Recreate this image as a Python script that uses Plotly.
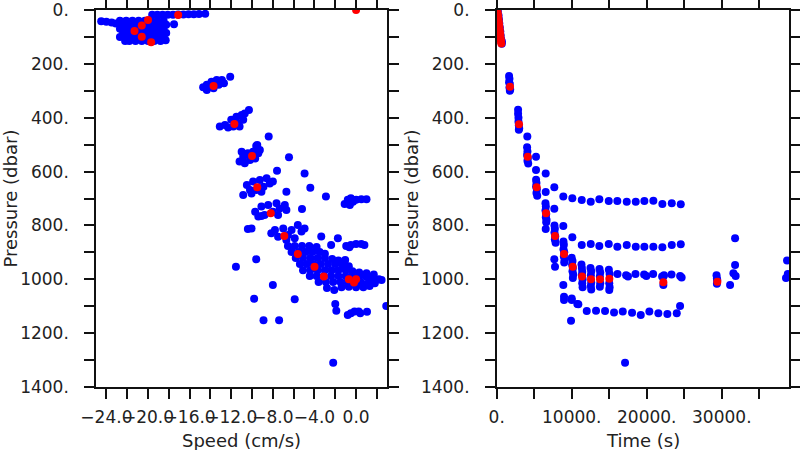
import plotly.graph_objects as go

# ---------------- LEFT PANEL: Speed (cm/s) vs Pressure (dbar) ----------------
left_blue_top = [
    (-24.5, 42), (-24.0, 44), (-23.5, 46), (-23.1, 50),
    (-22.7, 40), (-22.1, 40), (-21.5, 40), (-20.9, 40), (-20.3, 40), (-19.7, 40), (-19.1, 40), (-18.5, 40),
    (-22.4, 55), (-21.8, 55), (-21.2, 55), (-20.6, 55), (-20.0, 55), (-19.4, 55), (-18.8, 55), (-18.25, 55),
    (-22.7, 70), (-22.1, 70), (-21.5, 70), (-20.9, 70), (-20.3, 70), (-19.7, 70), (-19.1, 70), (-18.5, 70),
    (-22.4, 85), (-21.8, 85), (-21.2, 85), (-20.6, 85), (-20.0, 85), (-19.4, 85), (-18.8, 85), (-18.25, 85),
    (-22.7, 100), (-22.1, 100), (-21.5, 100), (-20.9, 100), (-20.3, 100), (-19.7, 100), (-19.1, 100), (-18.5, 100),
    (-22.2, 115), (-21.8, 115), (-21.2, 115), (-20.6, 115), (-20.0, 115), (-19.4, 115), (-18.8, 115), (-18.3, 112),
    (-19.6, 18), (-19.1, 18), (-18.6, 18), (-18.1, 18), (-17.6, 18), (-17.1, 17),
    (-16.6, 17), (-16.1, 16), (-15.6, 16), (-15.1, 15), (-14.5, 14),
    (-17.5, 53),
]
left_blue_mid = [
    (-14.7, 287), (-14.35, 278), (-14.35, 297), (-14.0, 285), (-13.9, 266), (-13.7, 291),
    (-13.4, 260), (-13.2, 278), (-12.9, 260), (-12.7, 272), (-12.1, 248),
    (-13.1, 433), (-12.6, 427), (-12.3, 436), (-12.0, 408), (-11.8, 433), (-11.5, 396),
    (-11.3, 421), (-11.0, 390), (-10.85, 408), (-11.2, 433), (-10.7, 384), (-10.3, 371),
    (-8.4, 470), (-9.6, 505), (-9.5, 501),
    (-11.2, 563), (-10.85, 545), (-10.7, 569), (-10.4, 532), (-10.2, 557), (-9.9, 526),
    (-9.7, 551), (-9.4, 532), (-9.25, 520), (-11.0, 526),
    (-10.85, 687), (-10.5, 650), (-10.2, 668), (-9.9, 637), (-9.6, 668), (-9.25, 631),
    (-8.9, 656), (-8.6, 625), (-8.3, 644), (-8.0, 637), (-9.1, 675), (-10.05, 681),
    (-9.7, 749), (-9.4, 767), (-9.1, 730), (-8.8, 761), (-8.45, 724), (-8.0, 749),
    (-7.65, 718), (-7.35, 737), (-6.85, 724), (-6.7, 743), (-7.5, 761), (-9.1, 765),
    (-10.4, 813), (-10.05, 811),
    (-8.15, 829), (-7.8, 817), (-7.5, 842), (-7.0, 811), (-6.55, 836), (-6.2, 817),
    (-5.9, 848), (-5.6, 798), (-5.25, 823), (-4.95, 811), (-6.7, 854),
]
left_blue_band = [
    (-6.55, 876), (-5.9, 876), (-5.2, 876), (-4.5, 876), (-3.8, 880),
    (-6.2, 899), (-5.5, 899), (-4.85, 899), (-4.2, 899), (-3.5, 899), (-3.0, 905),
    (-5.8, 921), (-5.1, 921), (-4.4, 921), (-3.7, 921), (-3.0, 921), (-2.3, 925), (-1.7, 930),
    (-5.4, 943), (-4.75, 943), (-4.1, 943), (-3.4, 943), (-2.7, 943), (-2.0, 943), (-1.3, 948), (-0.7, 952),
    (-5.1, 966), (-4.4, 966), (-3.7, 966), (-3.0, 966), (-2.35, 966), (-1.7, 966), (-1.0, 966),
    (-0.35, 970), (0.3, 975), (1.0, 978), (1.7, 982),
    (-4.45, 988), (-3.8, 988), (-3.1, 988), (-2.4, 988), (-1.7, 988), (-1.0, 988), (-0.35, 988),
    (0.35, 988), (1.0, 990), (1.7, 995), (2.2, 1000),
    (-3.6, 1010), (-2.9, 1010), (-2.2, 1010), (-1.5, 1010), (-0.85, 1010), (-0.2, 1010),
    (0.5, 1012), (1.2, 1012), (1.8, 1015),
    (-2.8, 1032), (-1.4, 1030), (-0.7, 1028), (0.0, 1030), (0.7, 1030), (1.3, 1025),
    (2.45, 1003),
]
left_blue_scatter = [
    (-6.45, 547), (-7.6, 597), (-4.95, 607), (-4.4, 660), (-6.7, 675), (-2.9, 693), (-5.2, 739),
    (-3.35, 841), (-1.75, 848), (-2.4, 873), (-9.6, 926), (-11.55, 953), (-8.0, 1021),
    (-1.05, 928), (-2.1, 1040), (-9.8, 1072), (-5.9, 1074), (-2.0, 1092), (-1.9, 1117),
    (-8.9, 1152), (-7.4, 1152), (-2.2, 1310), (2.9, 1099),
    (-1.1, 720), (-0.8, 705), (-0.5, 699), (-0.3, 712), (0.0, 705), (0.5, 703), (1.0, 703), (-0.6, 724),
    (-0.95, 876), (-0.5, 873), (0.0, 869), (0.5, 869), (0.8, 873), (-0.65, 881),
    (-0.8, 1133), (-0.5, 1126), (-0.15, 1120), (0.25, 1120), (0.4, 1126), (1.05, 1121),
]
left_red = [
    (-21.3, 78), (-20.6, 58), (-20.0, 37), (-20.6, 99), (-19.7, 120), (-17.1, 19), (0.0, 0),
    (-13.7, 282), (-11.7, 423), (-10.0, 542), (-9.5, 658), (-8.2, 755), (-6.9, 839),
    (-5.6, 906), (-4.0, 953), (-3.1, 990), (-0.7, 1000), (0.0, 1000), (-0.2, 1012),
]

# ---------------- RIGHT PANEL: Time (s) vs Pressure (dbar) ----------------
right_blue_profiles = [
    (150, 5), (250, 20), (300, 35), (350, 50), (420, 65), (480, 80), (530, 95), (600, 110), (680, 125), (700, 118),
    (1650, 245), (1700, 255), (1650, 268), (1750, 275), (1700, 288), (1800, 295), (1750, 300),
    (2850, 370), (2850, 385), (2900, 400), (2900, 415), (2950, 428), (3000, 440), (2950, 445),
    (4080, 470),
    (4050, 510), (4100, 525), (4050, 538), (4150, 550), (4100, 560), (4200, 570),
    (5240, 545), (5240, 594), (6533, 607),
    (5250, 630), (5300, 642), (5250, 655), (5350, 667), (5300, 680), (5400, 690),
    (6533, 676), (7680, 658),
    (6500, 718), (6550, 730), (6500, 745), (6600, 758), (6550, 770), (6650, 780), (6600, 788),
    (7680, 738), (6533, 813),
    (7700, 800), (7750, 812), (7700, 826), (7800, 840), (7750, 852), (7850, 864),
    (7680, 926), (7773, 953),
    (8900, 860), (8950, 872), (8900, 888), (9000, 900), (8950, 915), (9050, 928), (9000, 938),
    (8880, 1021), (8973, 1065),
    (10000, 920), (10100, 932), (10050, 945), (10150, 958), (10100, 970), (10200, 982), (10150, 995),
    (10000, 1071), (9907, 1154), (10747, 1092),
    (11300, 945), (11350, 958), (11400, 972), (11350, 985), (11450, 1000), (11400, 1015), (11450, 1030),
    (12500, 958), (12600, 970), (12550, 985), (12600, 1012), (12550, 1025), (12600, 1038),
    (13700, 962), (13800, 975), (13750, 990), (13800, 1015), (13750, 1028),
    (14950, 965), (15050, 980), (15000, 1015), (15050, 1030), (15000, 1040),
]
right_blue_line700 = [
    (8880, 693), (10080, 699), (11333, 706), (12533, 712), (13680, 703), (14933, 709), (16080, 709),
    (17333, 712), (18533, 712), (19680, 709), (20880, 708), (22080, 720), (23333, 718), (24533, 721),
]
right_blue_line870 = [
    (8880, 802), (10080, 844), (11333, 873), (12533, 869), (13680, 876), (14933, 869), (16080, 879),
    (17333, 873), (18533, 879), (19680, 879), (20880, 879), (22080, 881), (23333, 873), (24533, 870),
]
right_blue_line985 = [
    (16100, 980), (17250, 985), (17500, 990), (18500, 980), (19650, 982), (19950, 988),
    (20850, 980), (22050, 990), (22300, 985), (23300, 982), (24450, 988), (24650, 993),
    (22213, 990), (22213, 1021),
]
right_blue_line1120 = [
    (8973, 1077), (10000, 1077), (10880, 1093), (12000, 1118), (13240, 1117), (14440, 1118),
    (15640, 1123), (16800, 1120), (18040, 1124), (19200, 1133), (20347, 1120), (21547, 1126),
    (22747, 1129), (24000, 1126), (24440, 1099), (17107, 1310),
]
right_blue_late = [
    (29300, 985), (29350, 997), (29400, 1003), (29350, 1017), (31107, 1021), (31550, 978),
    (31850, 988), (31773, 947), (31773, 848), (38700, 930), (38560, 995), (38800, 980),
]
right_red = [
    (80, 0), (130, 10), (180, 20), (220, 30), (260, 40), (300, 50), (340, 60), (380, 70),
    (420, 80), (460, 90), (500, 100), (540, 110), (580, 118), (620, 124),
    (1773, 285), (2973, 424), (4133, 545), (5333, 658), (6573, 755), (7773, 839), (8973, 906),
    (10133, 953), (11373, 990), (12573, 1000), (13773, 1000), (15013, 998), (22213, 1011), (29413, 1009),
]

# axis ticks
pres_tickvals = [0, 100, 200, 300, 400, 500, 600, 700, 800, 900, 1000, 1100, 1200, 1300, 1400]
pres_ticktext = ["0.", "", "200.", "", "400.", "", "600.", "", "800.", "", "1000.", "", "1200.", "", "1400."]
speed_tickvals = [-24, -22, -20, -18, -16, -14, -12, -10, -8, -6, -4, -2, 0, 2]
speed_ticktext = ["\u221224.0", "", "\u221220.0", "", "\u221216.0", "", "\u221212.0", "",
                  "\u22128.0", "", "\u22124.0", "", "0.0", ""]
time_tickvals = [0, 5000, 10000, 15000, 20000, 25000, 30000, 35000]
time_ticktext = ["0.", "", "10000.", "", "20000.", "", "30000.", ""]


def xs(pts):
    return [p[0] for p in pts]


def ys(pts):
    return [p[1] for p in pts]


BLUE = "#0000FF"
RED = "#FF0000"
MS = 8

fig = go.Figure()
left_blue = left_blue_top + left_blue_mid + left_blue_band + left_blue_scatter
right_blue = (right_blue_profiles + right_blue_line700 + right_blue_line870 +
              right_blue_line985 + right_blue_line1120 + right_blue_late)

fig.add_trace(go.Scatter(x=xs(left_blue), y=ys(left_blue), mode="markers",
                         marker=dict(size=MS, color=BLUE), xaxis="x", yaxis="y", showlegend=False))
fig.add_trace(go.Scatter(x=xs(left_red), y=ys(left_red), mode="markers",
                         marker=dict(size=MS, color=RED), xaxis="x", yaxis="y", showlegend=False))
fig.add_trace(go.Scatter(x=xs(right_blue), y=ys(right_blue), mode="markers",
                         marker=dict(size=MS, color=BLUE), xaxis="x2", yaxis="y2", showlegend=False))
fig.add_trace(go.Scatter(x=xs(right_red), y=ys(right_red), mode="markers",
                         marker=dict(size=MS, color=RED), xaxis="x2", yaxis="y2", showlegend=False))

FONT = dict(family="DejaVu Sans", size=17, color="#222222")
axis_style = dict(showline=True, linecolor="#111111", linewidth=1.5, mirror="ticks",
                  ticks="outside", ticklen=10, tickwidth=1.5, tickcolor="#111111",
                  showgrid=False, zeroline=False, tickfont=FONT, automargin=False, tickangle=0)
x_style = dict(axis_style, ticklabelstandoff=4)
y_style = dict(axis_style, ticklabelstandoff=12)

fig.update_layout(
    width=800, height=450,
    margin=dict(l=0, r=0, t=10, b=63),
    paper_bgcolor="white", plot_bgcolor="white",
    xaxis=dict(domain=[96 / 800, 387.3 / 800], range=[-25, 3], tickmode="array",
               tickvals=speed_tickvals, ticktext=speed_ticktext, anchor="y", **x_style),
    yaxis=dict(domain=[0, 1], range=[1400, 0], tickmode="array",
               tickvals=pres_tickvals, ticktext=pres_ticktext, anchor="x", **y_style),
    xaxis2=dict(domain=[496.7 / 800, 789.3 / 800], range=[0, 39000], tickmode="array",
                tickvals=time_tickvals, ticktext=time_ticktext, anchor="y2", **x_style),
    yaxis2=dict(domain=[0, 1], range=[1400, 0], tickmode="array",
                tickvals=pres_tickvals, ticktext=pres_ticktext, anchor="x2", **y_style),
)

ann_font = dict(family="DejaVu Sans", size=18, color="#222222")
fig.add_annotation(text="Pressure (dbar)", xref="paper", yref="paper", x=10 / 800, y=0.5,
                   textangle=-90, showarrow=False, font=ann_font, xanchor="center", yanchor="middle")
fig.add_annotation(text="Pressure (dbar)", xref="paper", yref="paper", x=411 / 800, y=0.5,
                   textangle=-90, showarrow=False, font=ann_font, xanchor="center", yanchor="middle")
fig.add_annotation(text="Speed (cm/s)", xref="paper", yref="paper", x=241.7 / 800, y=(387 - 440) / 377,
                   showarrow=False, font=ann_font, xanchor="center", yanchor="middle")
fig.add_annotation(text="Time (s)", xref="paper", yref="paper", x=643 / 800, y=(387 - 440) / 377,
                   showarrow=False, font=ann_font, xanchor="center", yanchor="middle")

fig.write_html("out.html", config={"displayModeBar": False},
               post_script="document.body.style.margin='0';document.body.style.overflow='hidden';")
